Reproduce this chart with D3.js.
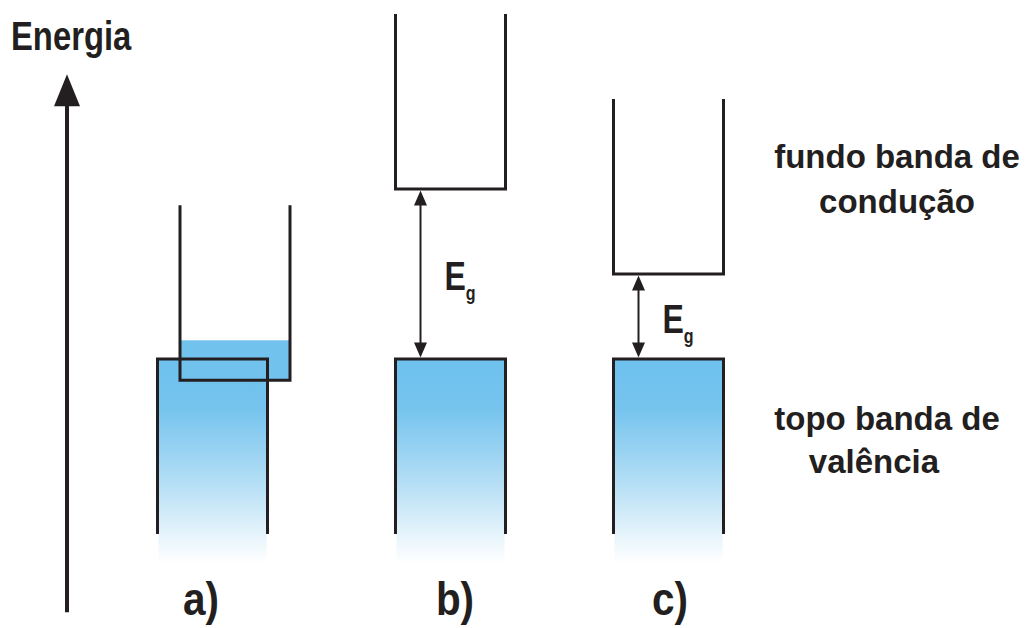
<!DOCTYPE html>
<html lang="pt">
<head>
<meta charset="UTF-8">
<title>Bandas de energia</title>
<style>
  body { margin: 0; background: #fff; }
  text { font-family: "Liberation Sans", Arial, Helvetica, sans-serif; font-weight: bold; fill: #231f20; }
</style>
</head>
<body>
<div class="chart"></div>
<script src="https://d3js.org/d3.v7.min.js"></script>
<script>
// panel data (energies in arbitrary units, valence band top = 0)
var panelLabels = ["a)", "b)", "c)"];
var valenceTop = [0, 0, 0];
var conductionBottom = [-0.25, 2.0, 1.0];
var fillLevel = [0.22, null, null];   // electrons in the conduction band (metal)
var bandDepth = 2.06;
var axisRange = [-2.98, 3.35];
var axisTitle = "Energia";
var gapLabel = "E", gapSub = "g";
var conductionText = ["fundo banda de", "condução"];
var valenceText = ["topo banda de", "valência"];

var width = 1027, height = 628;
var ink = "#231f20", blue = "#72c2ee";

// layout
var panelX = [212.5, 450.5, 668.5];
var conductionShift = [22.5, 0, 0];
var labelX = [201, 455, 670];
var bandW = 110;

var svg = d3.select(".chart").append("svg")
    .attr("width", width)
    .attr("height", height);

var y = d3.scaleLinear().domain([0, 2]).range([359, 189]);

var grad = svg.append("defs").append("linearGradient")
    .attr("id", "vb").attr("x1", 0).attr("y1", 0).attr("x2", 0).attr("y2", 1);
[[0, "#6ec1ee"], [0.25, "#76c4ee"], [0.6, "#b3def5"], [0.85, "#e4f3fb"], [1, "#ffffff"]]
    .forEach(function(s) { grad.append("stop").attr("offset", s[0]).attr("stop-color", s[1]); });

// energy axis
var ax = 67;
svg.append("line")
    .attr("x1", ax).attr("x2", ax)
    .attr("y1", y(axisRange[0])).attr("y2", y(axisRange[1]) + 20)
    .attr("stroke", ink).attr("stroke-width", 4);
svg.append("path")
    .attr("d", "M" + ax + "," + y(axisRange[1]) + " L" + (ax - 13) + "," + (y(axisRange[1]) + 32) +
               " L" + (ax + 13) + "," + (y(axisRange[1]) + 32) + "Z")
    .attr("fill", ink);
svg.append("text")
    .attr("transform", "translate(11,50) scale(0.8,1)")
    .attr("font-size", 41)
    .text(axisTitle);

var line = d3.line();

panelLabels.forEach(function(lab, i) {
    var g = svg.append("g");
    var vx0 = panelX[i] - bandW / 2, vx1 = panelX[i] + bandW / 2;
    var cx0 = vx0 + conductionShift[i], cx1 = vx1 + conductionShift[i];
    var vTop = y(valenceTop[i]), vBot = y(valenceTop[i] - bandDepth);
    var cBot = y(conductionBottom[i]), cTop = y(conductionBottom[i] + bandDepth);

    // valence band (filled, fading downwards)
    g.append("rect")
        .attr("x", vx0 + 1).attr("y", vTop)
        .attr("width", bandW - 2).attr("height", y(valenceTop[i] - bandDepth - 0.34) - vTop)
        .attr("fill", "url(#vb)");

    // electrons in conduction band
    if (fillLevel[i] !== null) {
        g.append("rect")
            .attr("x", cx0).attr("y", y(fillLevel[i]))
            .attr("width", bandW).attr("height", cBot - y(fillLevel[i]))
            .attr("fill", blue);
    }

    g.append("path")
        .attr("d", line([[vx0, vBot], [vx0, vTop], [vx1, vTop], [vx1, vBot]]))
        .attr("fill", "none").attr("stroke", ink).attr("stroke-width", 3);
    g.append("path")
        .attr("d", line([[cx0, cTop], [cx0, cBot], [cx1, cBot], [cx1, cTop]]))
        .attr("fill", "none").attr("stroke", ink).attr("stroke-width", 3);

    // band gap arrow
    if (conductionBottom[i] > valenceTop[i]) {
        var gx = vx0 + 25, t = cBot + 1.5, b = vTop - 1.5;
        g.append("line")
            .attr("x1", gx).attr("x2", gx).attr("y1", t + 10).attr("y2", b - 10)
            .attr("stroke", ink).attr("stroke-width", 2);
        g.append("path")
            .attr("d", "M" + gx + "," + t + " L" + (gx - 6.5) + "," + (t + 15) + " L" + (gx + 6.5) + "," + (t + 15) + "Z" +
                       "M" + gx + "," + b + " L" + (gx - 6.5) + "," + (b - 15) + " L" + (gx + 6.5) + "," + (b - 15) + "Z")
            .attr("fill", ink);
        var mid = (cBot + vTop) / 2 + 16;
        var lt = g.append("text")
            .attr("transform", "translate(" + (gx + 24) + "," + mid + ") scale(0.8,1)")
            .attr("font-size", 40);
        lt.append("tspan").text(gapLabel);
        lt.append("tspan").attr("font-size", 20).attr("dy", 10).text(gapSub);
    }

    svg.append("text")
        .attr("transform", "translate(" + labelX[i] + ",615) scale(0.88,1)")
        .attr("text-anchor", "middle")
        .attr("font-size", 46)
        .text(lab);
});

// side captions
conductionText.forEach(function(t, k) {
    svg.append("text").attr("x", 897).attr("y", 168 + k * 45)
        .attr("text-anchor", "middle").attr("font-size", 33).text(t);
});
valenceText.forEach(function(t, k) {
    svg.append("text").attr("x", k ? 874 : 887).attr("y", 430 + k * 43)
        .attr("text-anchor", "middle").attr("font-size", 33).text(t);
});
</script>
</body>
</html>
